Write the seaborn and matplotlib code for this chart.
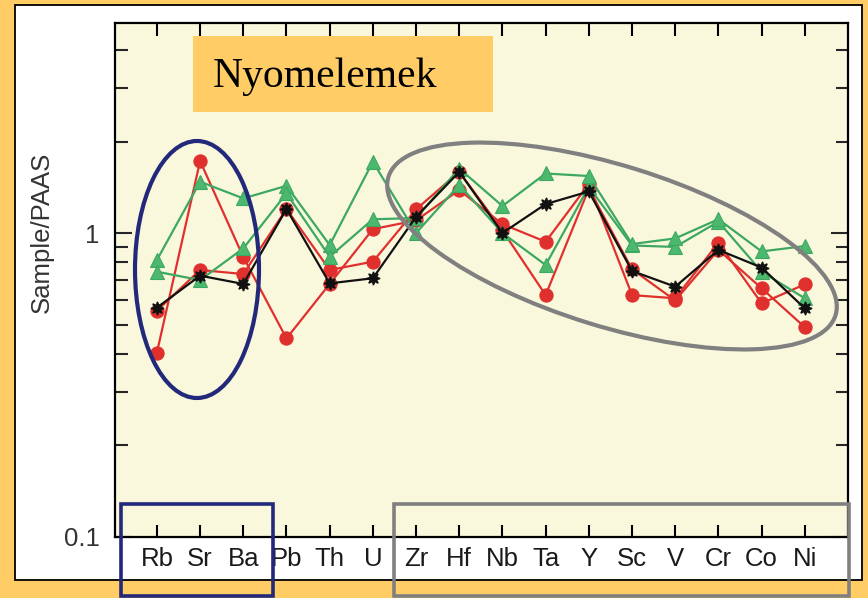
import matplotlib
matplotlib.use("Agg")
import matplotlib.pyplot as plt
import matplotlib.patches as mpatches
import matplotlib.transforms as mtransforms
from matplotlib.ticker import FixedLocator, LogLocator, NullFormatter, FuncFormatter
import numpy as np
import pandas as pd
import seaborn as sns

# ---------------- data ----------------
elements = ["Rb", "Sr", "Ba", "Pb", "Th", "U", "Zr", "Hf", "Nb", "Ta", "Y", "Sc", "V", "Cr", "Co", "Ni"]

red_1 = [0.404, 1.726, 0.834, 0.45, 0.68, 1.03, 1.10, 1.385, 1.07, 0.936, 1.45, 0.625, 0.61, 0.93, 0.587, 0.678]
red_2 = [0.555, 0.756, 0.733, 1.20, 0.756, 0.805, 1.196, 1.59, 1.02, 0.625, 1.40, 0.76, 0.60, 0.88, 0.658, 0.49]
green_1 = [0.815, 1.475, 1.30, 1.43, 0.913, 1.716, 1.0, 1.44, 1.0, 0.785, 1.42, 0.91, 0.90, 1.09, 0.746, 0.61]
green_2 = [0.746, 0.70, 0.89, 1.35, 0.836, 1.11, 1.12, 1.63, 1.227, 1.57, 1.54, 0.92, 0.96, 1.11, 0.87, 0.906]
black_avg = [0.568, 0.724, 0.68, 1.20, 0.683, 0.71, 1.13, 1.59, 1.0, 1.245, 1.37, 0.75, 0.666, 0.88, 0.77, 0.565]

y_label = "Sample/PAAS"
title_text = "Nyomelemek"
y_major = [0.1, 1]
y_major_labels = ["0.1", "1"]

# ---------------- style ----------------
sns.set_style("ticks")
plt.rcParams["font.family"] = ["Liberation Sans", "DejaVu Sans"]

W, H = 868, 598
fig = plt.figure(figsize=(W / 100, H / 100), dpi=100)
fig.patch.set_facecolor("#FFCC66")

px = mtransforms.IdentityTransform()

# white panel with black border
panel = mpatches.Rectangle((15, H - 580), 862 - 15, 580 - 5, transform=px,
                           facecolor="white", edgecolor="black", linewidth=1.3, zorder=-10)
fig.add_artist(panel)

ax = fig.add_axes([115 / W, (H - 537) / H, (848 - 115) / W, (537 - 22.7) / H])
ax.set_facecolor("#FAF8DC")

xpos = np.arange(len(elements))
series = [
    ("red_1", red_1, "#E0302E", "o", 9.5, "#E0302E", 0.8),
    ("red_2", red_2, "#E0302E", "o", 9.5, "#E0302E", 0.8),
    ("green_1", green_1, "#3DA862", "^", 10.5, "#4CB86E", 0.8),
    ("green_2", green_2, "#3DA862", "^", 10.5, "#4CB86E", 0.8),
    ("black_avg", black_avg, "#111111", (8, 1, 0), 9.5, "#111111", 1.0),
]
for i, (name, vals, col, mk, ms, mfc, mew) in enumerate(series):
    df = pd.DataFrame({"x": xpos, "y": vals})
    sns.lineplot(data=df, x="x", y="y", ax=ax, color=col, marker=mk, markersize=ms,
                 markerfacecolor=mfc, markeredgecolor=col, markeredgewidth=mew,
                 linewidth=1.6, sort=False, zorder=3 + i)

ax.set_yscale("log")
ax.set_ylim(0.1, 4.92)
ax.set_xlim(-0.97, len(elements) - 0.0)
ax.yaxis.set_major_locator(FixedLocator(y_major))
ax.yaxis.set_major_formatter(FuncFormatter(lambda v, p: y_major_labels[y_major.index(v)] if v in y_major else ""))
ax.yaxis.set_minor_locator(LogLocator(base=10, subs=np.arange(2, 10)))
ax.yaxis.set_minor_formatter(NullFormatter())
ax.set_xticks(xpos)
ax.set_xticklabels(elements)
ax.set_xlabel("")
ax.set_ylabel("")

for s in ax.spines.values():
    s.set_linewidth(1.6)
    s.set_color("black")
    s.set_visible(True)

ax.tick_params(axis="x", which="both", direction="in", top=True, bottom=True,
               length=9, width=1.5, labelsize=18.5, pad=7, colors="black", labelcolor="#1a1a1a")
ax.tick_params(axis="y", which="major", direction="in", left=True, right=True,
               length=12, width=1.5, labelsize=18.5, pad=11, labelcolor="#333333")
ax.tick_params(axis="y", which="minor", direction="in", left=True, right=True,
               length=9, width=1.5)

fig.text(42 / W, (H - 232) / H, y_label, rotation=90, ha="center", va="center",
         fontsize=18.5, color="#333333")

# title box
tbox = mpatches.Rectangle((193, H - 112), 300, 76, transform=px,
                          facecolor="#FFCC66", edgecolor="none", zorder=20)
fig.add_artist(tbox)
fig.text(213 / W, (H - 87) / H, title_text, ha="left", va="baseline",
         fontsize=30, family=["Liberation Serif", "DejaVu Serif"], color="black", zorder=21)

# ellipses
e1 = mpatches.Ellipse((197, H - 269.5), 124, 257, angle=0, transform=px,
                      facecolor="none", edgecolor="#22287A", linewidth=3, zorder=22)
e2 = mpatches.Ellipse((612, H - 246), 468, 161, angle=-17.2, transform=px,
                      facecolor="none", edgecolor="#808080", linewidth=3, zorder=22)
fig.add_artist(e1)
fig.add_artist(e2)

# rectangles at bottom
r1 = mpatches.Rectangle((121, H - 596), 273 - 121, 596 - 504, transform=px,
                        facecolor="none", edgecolor="#22287A", linewidth=2.6, zorder=22)
r2 = mpatches.Rectangle((394, H - 596), 849 - 394, 596 - 504, transform=px,
                        facecolor="none", edgecolor="#808080", linewidth=2.6, zorder=22)
fig.add_artist(r1)
fig.add_artist(r2)

fig.savefig("out.png", dpi=100, facecolor=fig.get_facecolor())
